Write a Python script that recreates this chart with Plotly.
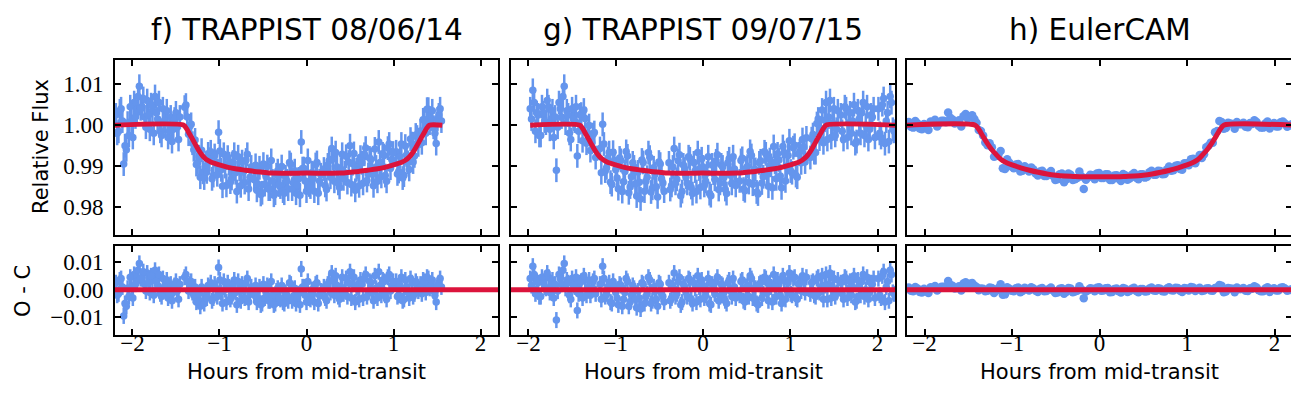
import plotly.graph_objects as go
from plotly.subplots import make_subplots

BLUE = "#6495ED"
RED = "#DC143C"

# ---- f) TRAPPIST 08/06/14 (two interleaved halves of the light curve) ----
t_f1 = [-2.19, -2.16, -2.13, -2.10, -2.07, -2.04, -2.01, -1.98, -1.95, -1.92, -1.89, -1.86, -1.83,
        -1.80, -1.77, -1.74, -1.71, -1.68, -1.65, -1.62, -1.59, -1.56, -1.53, -1.50, -1.47,
        -1.40, -1.37, -1.34, -1.31, -1.28, -1.25, -1.22, -1.19, -1.16, -1.13, -1.10, -1.07, -1.04,
        -1.01, -0.98, -0.95, -0.92, -0.89, -0.86, -0.83, -0.80, -0.77, -0.74, -0.71, -0.68, -0.65,
        -0.60, -0.57, -0.54, -0.51, -0.48, -0.45, -0.42, -0.39, -0.36, -0.33, -0.30, -0.27, -0.24,
        -0.21, -0.18, -0.15, -0.12, -0.09, -0.06, -0.03, 0.00, 0.03, 0.06, 0.09, 0.12, 0.15,
        0.20, 0.23, 0.26, 0.29, 0.32, 0.35, 0.38, 0.41, 0.44, 0.47, 0.50, 0.53, 0.56, 0.59, 0.62,
        0.65, 0.68, 0.71, 0.74, 0.77, 0.80, 0.83, 0.86, 0.89, 0.92, 0.95, 0.98,
        1.03, 1.06, 1.09, 1.12, 1.15, 1.18, 1.21, 1.24, 1.27,
        1.31, 1.34, 1.37, 1.40, 1.43, 1.46, 1.49, 1.52, 1.55]
flux_f1 = [1.0025, 0.9985, 1.0040, 0.9905, 0.9940, 0.9975, 1.0010, 1.0055, 1.0030, 1.0095, 1.0045, 1.0020, 1.0060,
           0.9990, 1.0035, 1.0070, 1.0015, 0.9985, 1.0040, 1.0005, 0.9970, 1.0020, 0.9990, 1.0030, 0.9965,
           1.0044, 1.0020, 0.9998, 0.9956, 0.9964, 0.9908, 0.9873, 0.9885, 0.9899, 0.9930, 0.9935, 0.9877, 0.9910,
           0.9983, 0.9891, 0.9929, 0.9853, 0.9906, 0.9870, 0.9929, 0.9838, 0.9892, 0.9911, 0.9860, 0.9929, 0.9873,
           0.9867, 0.9841, 0.9896, 0.9835, 0.9855, 0.9899, 0.9844, 0.9864, 0.9834, 0.9889, 0.9849, 0.9839, 0.9874,
           0.9844, 0.9904, 0.9859, 0.9834, 0.9869, 0.9959, 0.9894, 0.9839, 0.9854, 0.9884, 0.9839, 0.9909, 0.9864,
           0.9893, 0.9843, 0.9913, 0.9943, 0.9863, 0.9898, 0.9848, 0.9929, 0.9884, 0.9860, 0.9950, 0.9906, 0.9841,
           0.9897, 0.9922, 0.9858, 0.9944, 0.9880, 0.9916, 0.9852, 0.9898, 0.9959, 0.9875, 0.9926, 0.9863, 0.9954, 0.9916,
           0.9935, 0.9887, 0.9954, 0.9878, 0.9927, 0.9892, 0.9955, 0.9925, 0.9971,
           0.9986, 1.0013, 0.9980, 1.0039, 1.0015, 0.9995, 0.9955, 1.0025, 1.0010]
res_f1 = [0.0025, -0.0015, 0.0040, -0.0095, -0.0060, -0.0025, 0.0010, 0.0055, 0.0030, 0.0095, 0.0045, 0.0020, 0.0060,
          -0.0010, 0.0035, 0.0070, 0.0015, -0.0015, 0.0040, 0.0005, -0.0030, 0.0020, -0.0010, 0.0030, -0.0035,
          0.0045, 0.0030, 0.0020, -0.0010, 0.0010, -0.0035, -0.0060, -0.0040, -0.0020, 0.0015, 0.0025, -0.0030, 0.0005,
          0.0080, -0.0010, 0.0030, -0.0045, 0.0010, -0.0025, 0.0035, -0.0055, 0.0000, 0.0020, -0.0030, 0.0040, -0.0015,
          -0.0020, -0.0045, 0.0010, -0.0050, -0.0030, 0.0015, -0.0040, -0.0020, -0.0050, 0.0005, -0.0035, -0.0045, -0.0010,
          -0.0040, 0.0020, -0.0025, -0.0050, -0.0015, 0.0075, 0.0010, -0.0045, -0.0030, 0.0000, -0.0045, 0.0025, -0.0020,
          0.0010, -0.0040, 0.0030, 0.0060, -0.0020, 0.0015, -0.0035, 0.0045, 0.0000, -0.0025, 0.0065, 0.0020, -0.0045,
          0.0010, 0.0035, -0.0030, 0.0055, -0.0010, 0.0025, -0.0040, 0.0005, 0.0065, -0.0020, 0.0030, -0.0035, 0.0055, 0.0015,
          0.0030, -0.0020, 0.0045, -0.0035, 0.0010, -0.0030, 0.0025, -0.0015, 0.0020,
          0.0020, 0.0035, -0.0010, 0.0040, 0.0015, -0.0005, -0.0045, 0.0025, 0.0010]
t_f2 = [-2.175, -2.145, -2.115, -2.085, -2.055, -2.025, -1.995, -1.965, -1.935, -1.905, -1.875, -1.845, -1.815,
        -1.785, -1.755, -1.725, -1.695, -1.665, -1.635, -1.605, -1.575, -1.545, -1.515, -1.485, -1.455,
        -1.385, -1.355, -1.325, -1.295, -1.265, -1.235, -1.205, -1.175, -1.145, -1.115, -1.085, -1.055, -1.025,
        -0.995, -0.965, -0.935, -0.905, -0.875, -0.845, -0.815, -0.785, -0.755, -0.725, -0.695, -0.665, -0.635,
        -0.585, -0.555, -0.525, -0.495, -0.465, -0.435, -0.405, -0.375, -0.345, -0.315, -0.285, -0.255, -0.225,
        -0.195, -0.165, -0.135, -0.105, -0.075, -0.045, -0.015, 0.015, 0.045, 0.075, 0.105, 0.135, 0.165,
        0.215, 0.245, 0.275, 0.305, 0.335, 0.365, 0.395, 0.425, 0.455, 0.485, 0.515, 0.545, 0.575, 0.605, 0.635,
        0.665, 0.695, 0.725, 0.755, 0.785, 0.815, 0.845, 0.875, 0.905, 0.935, 0.965, 0.995,
        1.045, 1.075, 1.105, 1.135, 1.165, 1.195, 1.225, 1.255, 1.285,
        1.325, 1.355, 1.385, 1.415, 1.445, 1.475, 1.505, 1.535]
flux_f2 = [0.9980, 1.0035, 1.0010, 0.9950, 1.0005, 1.0045, 0.9970, 1.0020, 1.0070, 1.0040, 1.0065, 0.9995, 1.0025,
           1.0050, 0.9980, 1.0030, 1.0055, 0.9975, 1.0010, 1.0035, 0.9985, 0.9960, 1.0015, 0.9995, 1.0020,
           1.0049, 0.9978, 1.0002, 0.9940, 0.9904, 0.9923, 0.9939, 0.9871, 0.9886, 0.9917, 0.9869, 0.9926, 0.9879,
           0.9937, 0.9851, 0.9899, 0.9922, 0.9861, 0.9910, 0.9884, 0.9923, 0.9852, 0.9886, 0.9915, 0.9844, 0.9898,
           0.9902, 0.9856, 0.9831, 0.9905, 0.9875, 0.9844, 0.9914, 0.9829, 0.9879, 0.9854, 0.9899, 0.9834, 0.9864,
           0.9909, 0.9844, 0.9889, 0.9854, 0.9829, 0.9894, 0.9864, 0.9914, 0.9849, 0.9869, 0.9904, 0.9834, 0.9879,
           0.9853, 0.9903, 0.9873, 0.9918, 0.9933, 0.9858, 0.9893, 0.9869, 0.9924, 0.9910, 0.9855, 0.9931, 0.9891, 0.9852, 0.9908,
           0.9929, 0.9865, 0.9920, 0.9881, 0.9942, 0.9863, 0.9909, 0.9930, 0.9877, 0.9944, 0.9895, 0.9932,
           0.9881, 0.9923, 0.9871, 0.9949, 0.9909, 0.9966, 0.9910, 0.9976, 0.9952,
           0.9957, 1.0013, 1.0039, 1.0005, 1.0035, 0.9980, 1.0015, 1.0040]
res_f2 = [-0.0020, 0.0035, 0.0010, -0.0050, 0.0005, 0.0045, -0.0030, 0.0020, 0.0070, 0.0040, 0.0065, -0.0005, 0.0025,
          0.0050, -0.0020, 0.0030, 0.0055, -0.0025, 0.0010, 0.0035, -0.0015, -0.0040, 0.0015, -0.0005, 0.0020,
          0.0055, -0.0005, 0.0030, -0.0020, -0.0045, -0.0015, 0.0010, -0.0050, -0.0030, 0.0005, -0.0040, 0.0020, -0.0025,
          0.0035, -0.0050, 0.0000, 0.0025, -0.0035, 0.0015, -0.0010, 0.0030, -0.0040, -0.0005, 0.0025, -0.0045, 0.0010,
          0.0015, -0.0030, -0.0055, 0.0020, -0.0010, -0.0040, 0.0030, -0.0055, -0.0005, -0.0030, 0.0015, -0.0050, -0.0020,
          0.0025, -0.0040, 0.0005, -0.0030, -0.0055, 0.0010, -0.0020, 0.0030, -0.0035, -0.0015, 0.0020, -0.0050, -0.0005,
          -0.0030, 0.0020, -0.0010, 0.0035, 0.0050, -0.0025, 0.0010, -0.0015, 0.0040, 0.0025, -0.0030, 0.0045, 0.0005, -0.0035, 0.0020,
          0.0040, -0.0025, 0.0030, -0.0010, 0.0050, -0.0030, 0.0015, 0.0035, -0.0020, 0.0045, -0.0005, 0.0030,
          -0.0025, 0.0015, -0.0040, 0.0035, -0.0010, 0.0040, -0.0025, 0.0030, -0.0005,
          -0.0015, 0.0030, 0.0045, 0.0005, 0.0035, -0.0020, 0.0015, 0.0040]

# ---- g) TRAPPIST 09/07/15 ----
t_g1 = [-1.98, -1.95, -1.92, -1.89, -1.86, -1.83, -1.80, -1.77, -1.74, -1.71, -1.68, -1.65, -1.62,
        -1.59, -1.56, -1.53, -1.50, -1.47, -1.44, -1.41, -1.38, -1.35, -1.32, -1.29, -1.26, -1.23,
        -1.18, -1.15, -1.12, -1.09, -1.06, -1.03, -1.00, -0.97, -0.94, -0.91, -0.88, -0.85, -0.82,
        -0.79, -0.76, -0.73, -0.70, -0.67, -0.64, -0.61, -0.58, -0.55, -0.52, -0.49, -0.46,
        -0.39, -0.36, -0.33, -0.30, -0.27, -0.24, -0.21, -0.18, -0.15, -0.12, -0.09, -0.06, -0.03,
        0.00, 0.03, 0.06, 0.09, 0.12, 0.15, 0.18, 0.21, 0.24, 0.27, 0.30, 0.33, 0.36,
        0.42, 0.45, 0.48, 0.51, 0.54, 0.57, 0.60, 0.63, 0.66, 0.69, 0.72, 0.75, 0.78,
        0.81, 0.84, 0.87, 0.90, 0.93, 0.96, 0.99, 1.02, 1.05, 1.08, 1.11, 1.14, 1.17,
        1.23, 1.26, 1.29, 1.32, 1.35, 1.38, 1.41, 1.44, 1.47, 1.50, 1.53,
        1.58, 1.61, 1.64, 1.67, 1.70, 1.73, 1.76, 1.79, 1.82, 1.85, 1.88, 1.91, 1.94, 1.97,
        2.01, 2.04, 2.07, 2.10, 2.13, 2.16, 2.19]
flux_g1 = [1.0040, 1.0085, 0.9985, 1.0025, 0.9975, 1.0030, 1.0005, 1.0045, 1.0015, 0.9970, 0.9890, 1.0055, 1.0020,
           1.0095, 1.0035, 0.9980, 1.0040, 1.0010, 0.9925, 1.0025, 0.9962, 1.0016, 0.9980, 0.9938, 0.9977, 0.9921,
           0.9943, 1.0002, 0.9888, 0.9919, 0.9861, 0.9934, 0.9892, 0.9845, 0.9914, 0.9862, 0.9936, 0.9835, 0.9874,
           0.9898, 0.9827, 0.9861, 0.9915, 0.9839, 0.9873, 0.9922, 0.9846, 0.9881, 0.9825, 0.9905, 0.9859,
           0.9908, 0.9853, 0.9943, 0.9868, 0.9928, 0.9838, 0.9893, 0.9858, 0.9918, 0.9833, 0.9888, 0.9933, 0.9848,
           0.9898, 0.9863, 0.9923, 0.9828, 0.9883, 0.9913, 0.9843, 0.9903, 0.9873, 0.9833, 0.9918, 0.9858, 0.9893,
           0.9864, 0.9919, 0.9840, 0.9900, 0.9936, 0.9856, 0.9892, 0.9832, 0.9913, 0.9874, 0.9930, 0.9851, 0.9902,
           0.9948, 0.9869, 0.9915, 0.9847, 0.9933, 0.9900, 0.9962, 0.9884, 0.9951, 0.9873, 0.9936, 0.9965, 0.9910,
           0.9921, 0.9977, 0.9933, 1.0015, 0.9991, 0.9957, 1.0055, 1.0020, 0.9970, 1.0040, 0.9990,
           1.0025, 0.9965, 1.0040, 1.0005, 0.9980, 1.0050, 0.9960, 1.0015, 1.0030, 0.9975, 1.0045, 0.9990, 1.0020, 0.9970,
           1.0040, 0.9970, 1.0065, 1.0010, 0.9960, 1.0055, 0.9985]
res_g1 = [0.0040, 0.0085, -0.0015, 0.0025, -0.0025, 0.0030, 0.0005, 0.0045, 0.0015, -0.0030, -0.0110, 0.0055, 0.0020,
          0.0095, 0.0035, -0.0020, 0.0040, 0.0010, -0.0075, 0.0025, -0.0030, 0.0035, 0.0010, -0.0020, 0.0030, -0.0015,
          0.0020, 0.0085, -0.0025, 0.0010, -0.0045, 0.0030, -0.0010, -0.0055, 0.0015, -0.0035, 0.0040, -0.0060, -0.0020,
          0.0005, -0.0065, -0.0030, 0.0025, -0.0050, -0.0015, 0.0035, -0.0040, -0.0005, -0.0060, 0.0020, -0.0025,
          0.0025, -0.0030, 0.0060, -0.0015, 0.0045, -0.0045, 0.0010, -0.0025, 0.0035, -0.0050, 0.0005, 0.0050, -0.0035,
          0.0015, -0.0020, 0.0040, -0.0055, 0.0000, 0.0030, -0.0040, 0.0020, -0.0010, -0.0050, 0.0035, -0.0025, 0.0010,
          -0.0020, 0.0035, -0.0045, 0.0015, 0.0050, -0.0030, 0.0005, -0.0055, 0.0025, -0.0015, 0.0040, -0.0040, 0.0010,
          0.0055, -0.0025, 0.0020, -0.0050, 0.0035, 0.0000, 0.0060, -0.0020, 0.0045, -0.0035, 0.0025, 0.0050, -0.0010,
          -0.0015, 0.0030, -0.0025, 0.0045, 0.0010, -0.0035, 0.0055, 0.0020, -0.0030, 0.0040, -0.0010,
          0.0025, -0.0035, 0.0040, 0.0005, -0.0020, 0.0050, -0.0040, 0.0015, 0.0030, -0.0025, 0.0045, -0.0010, 0.0020, -0.0030,
          0.0040, -0.0030, 0.0065, 0.0010, -0.0040, 0.0055, -0.0015]
t_g2 = [-1.965, -1.935, -1.905, -1.875, -1.845, -1.815, -1.785, -1.755, -1.725, -1.695, -1.665, -1.635, -1.605,
        -1.575, -1.545, -1.515, -1.485, -1.455, -1.425, -1.395, -1.365, -1.335, -1.305, -1.275, -1.245,
        -1.165, -1.135, -1.105, -1.075, -1.045, -1.015, -0.985, -0.955, -0.925, -0.895, -0.865, -0.835, -0.805,
        -0.775, -0.745, -0.715, -0.685, -0.655, -0.625, -0.595, -0.565, -0.535, -0.505, -0.475, -0.445,
        -0.375, -0.345, -0.315, -0.285, -0.255, -0.225, -0.195, -0.165, -0.135, -0.105, -0.075, -0.045, -0.015,
        0.015, 0.045, 0.075, 0.105, 0.135, 0.165, 0.195, 0.225, 0.255, 0.285, 0.315, 0.345, 0.375,
        0.435, 0.465, 0.495, 0.525, 0.555, 0.585, 0.615, 0.645, 0.675, 0.705, 0.735, 0.765, 0.795,
        0.825, 0.855, 0.885, 0.915, 0.945, 0.975, 1.005, 1.035, 1.065, 1.095, 1.125, 1.155, 1.185,
        1.245, 1.275, 1.305, 1.335, 1.365, 1.395, 1.425, 1.455, 1.485, 1.515, 1.545,
        1.595, 1.625, 1.655, 1.685, 1.715, 1.745, 1.775, 1.805, 1.835, 1.865, 1.895, 1.925, 1.955,
        2.025, 2.055, 2.085, 2.115, 2.145, 2.175]
flux_g2 = [1.0015, 1.0055, 1.0030, 0.9975, 1.0045, 1.0010, 1.0060, 0.9990, 1.0035, 1.0020, 0.9995, 1.0040, 1.0070,
           1.0005, 1.0025, 0.9965, 1.0015, 1.0045, 0.9985, 1.0027, 1.0037, 0.9956, 0.9999, 0.9958, 0.9982,
           0.9884, 0.9954, 0.9896, 0.9933, 0.9855, 0.9913, 0.9871, 0.9920, 0.9838, 0.9887, 0.9925, 0.9849, 0.9908,
           0.9857, 0.9886, 0.9820, 0.9909, 0.9863, 0.9933, 0.9837, 0.9896, 0.9850, 0.9910, 0.9869, 0.9839,
           0.9843, 0.9898, 0.9858, 0.9913, 0.9828, 0.9903, 0.9873, 0.9923, 0.9848, 0.9908, 0.9838, 0.9893, 0.9918,
           0.9853, 0.9883, 0.9833, 0.9903, 0.9868, 0.9928, 0.9858, 0.9898, 0.9843, 0.9908, 0.9878, 0.9923, 0.9853,
           0.9914, 0.9844, 0.9895, 0.9860, 0.9926, 0.9891, 0.9837, 0.9908, 0.9859, 0.9935, 0.9880, 0.9916, 0.9847,
           0.9909, 0.9930, 0.9876, 0.9948, 0.9864, 0.9926, 0.9888, 0.9945, 0.9877, 0.9930, 0.9908, 0.9947, 0.9969,
           0.9967, 0.9933, 1.0004, 0.9966, 1.0037, 1.0012, 0.9965, 1.0060, 1.0005, 0.9975, 1.0035,
           0.9985, 1.0045, 0.9970, 1.0030, 1.0010, 0.9955, 1.0035, 0.9980, 1.0055, 1.0000, 0.9965, 1.0025, 1.0040,
           0.9980, 1.0050, 0.9955, 1.0030, 1.0070, 0.9990]
res_g2 = [0.0015, 0.0055, 0.0030, -0.0025, 0.0045, 0.0010, 0.0060, -0.0010, 0.0035, 0.0020, -0.0005, 0.0040, 0.0070,
          0.0005, 0.0025, -0.0035, 0.0015, 0.0045, -0.0015, 0.0030, 0.0050, -0.0020, 0.0035, 0.0005, 0.0040,
          -0.0035, 0.0040, -0.0015, 0.0025, -0.0050, 0.0010, -0.0030, 0.0020, -0.0060, -0.0010, 0.0030, -0.0045, 0.0015,
          -0.0035, -0.0005, -0.0070, 0.0020, -0.0025, 0.0045, -0.0050, 0.0010, -0.0035, 0.0025, -0.0015, -0.0045,
          -0.0040, 0.0015, -0.0025, 0.0030, -0.0055, 0.0020, -0.0010, 0.0040, -0.0035, 0.0025, -0.0045, 0.0010, 0.0035,
          -0.0030, 0.0000, -0.0050, 0.0020, -0.0015, 0.0045, -0.0025, 0.0015, -0.0040, 0.0025, -0.0005, 0.0040, -0.0030,
          0.0030, -0.0040, 0.0010, -0.0025, 0.0040, 0.0005, -0.0050, 0.0020, -0.0030, 0.0045, -0.0010, 0.0025, -0.0045,
          0.0015, 0.0035, -0.0020, 0.0050, -0.0035, 0.0025, -0.0015, 0.0040, -0.0030, 0.0020, -0.0005, 0.0030, 0.0045,
          0.0025, -0.0020, 0.0040, -0.0010, 0.0050, 0.0015, -0.0035, 0.0060, 0.0005, -0.0025, 0.0035,
          -0.0015, 0.0045, -0.0030, 0.0030, 0.0010, -0.0045, 0.0035, -0.0020, 0.0055, 0.0000, -0.0035, 0.0025, 0.0040,
          -0.0020, 0.0050, -0.0045, 0.0030, 0.0070, -0.0010]

# ---- h) EulerCAM ----
t_e1 = [-2.18, -2.13, -2.08, -2.03, -1.98, -1.93, -1.88, -1.83, -1.78, -1.73, -1.68, -1.63, -1.58, -1.53, -1.48,
        -1.43, -1.38, -1.33, -1.28, -1.23, -1.18, -1.13, -1.08, -1.03, -0.98, -0.93, -0.88, -0.83, -0.78, -0.73,
        -0.68, -0.63, -0.58, -0.53, -0.48, -0.43, -0.38, -0.33, -0.28, -0.23, -0.18, -0.13, -0.08, -0.03, 0.02,
        0.07, 0.12, 0.17, 0.22, 0.27, 0.32, 0.37, 0.42, 0.47, 0.52, 0.57, 0.62, 0.67, 0.72, 0.77,
        0.82, 0.87, 0.92, 0.97, 1.02, 1.07, 1.12, 1.17, 1.22, 1.27, 1.32, 1.37, 1.42, 1.47, 1.52,
        1.57, 1.62, 1.67, 1.72, 1.77, 1.82, 1.87, 1.92, 1.97, 2.02, 2.07, 2.12, 2.17]
flux_e1 = [1.0008, 0.9994, 1.0004, 0.9990, 0.9993, 1.0009, 1.0013, 1.0005, 1.0011, 1.0031, 1.0014, 1.0006, 0.9997, 1.0027, 1.0021,
           1.0015, 0.9988, 0.9975, 0.9951, 0.9946, 0.9925, 0.9937, 0.9893, 0.9908, 0.9895, 0.9905, 0.9889, 0.9893, 0.9897, 0.9882,
           0.9887, 0.9876, 0.9883, 0.9876, 0.9868, 0.9882, 0.9868, 0.9879, 0.9868, 0.9887, 0.9844, 0.9873, 0.9878, 0.9882, 0.9871,
           0.9880, 0.9866, 0.9877, 0.9869, 0.9881, 0.9867, 0.9879, 0.9872, 0.9880, 0.9872, 0.9885, 0.9879, 0.9889, 0.9880, 0.9892,
           0.9889, 0.9901, 0.9893, 0.9907, 0.9902, 0.9918, 0.9918, 0.9920, 0.9946, 0.9957, 0.9983, 1.0010, 0.9991, 1.0006, 1.0003,
           1.0008, 1.0002, 0.9996, 1.0005, 1.0012, 0.9998, 0.9994, 1.0009, 1.0002, 0.9997, 1.0007, 1.0004, 0.9999]
res_e1 = [0.0008, -0.0006, 0.0004, -0.0010, -0.0007, 0.0009, 0.0013, 0.0005, 0.0011, 0.0031, 0.0014, 0.0006, -0.0003, 0.0027, 0.0021,
          0.0015, -0.0002, 0.0003, -0.0004, 0.0006, -0.0003, 0.0020, -0.0017, 0.0003, -0.0006, 0.0008, -0.0005, 0.0002, 0.0009, -0.0004,
          0.0003, -0.0006, 0.0002, -0.0003, -0.0010, 0.0005, -0.0008, 0.0004, -0.0007, 0.0012, -0.0031, -0.0002, 0.0003, 0.0007, -0.0004,
          0.0005, -0.0009, 0.0002, -0.0006, 0.0006, -0.0008, 0.0003, -0.0005, 0.0002, -0.0007, 0.0004, -0.0003, 0.0005, -0.0006, 0.0004,
          -0.0002, 0.0007, -0.0004, 0.0006, -0.0003, 0.0008, 0.0002, -0.0005, 0.0004, -0.0003, 0.0006, 0.0017, -0.0009, 0.0006, 0.0003,
          0.0008, 0.0002, -0.0004, 0.0005, 0.0012, -0.0002, -0.0006, 0.0009, 0.0002, -0.0003, 0.0007, 0.0004, -0.0001]
t_e2 = [-2.155, -2.105, -2.055, -2.005, -1.955, -1.905, -1.855, -1.805, -1.755, -1.705, -1.655, -1.605, -1.555, -1.505, -1.455,
        -1.405, -1.355, -1.305, -1.255, -1.205, -1.155, -1.105, -1.055, -1.005, -0.955, -0.905, -0.855, -0.805, -0.755, -0.705,
        -0.655, -0.605, -0.555, -0.505, -0.455, -0.405, -0.355, -0.305, -0.255, -0.205, -0.155, -0.105, -0.055, -0.005, 0.045,
        0.095, 0.145, 0.195, 0.245, 0.295, 0.345, 0.395, 0.445, 0.495, 0.545, 0.595, 0.645, 0.695, 0.745, 0.795,
        0.845, 0.895, 0.945, 0.995, 1.045, 1.095, 1.145, 1.195, 1.245, 1.295, 1.345, 1.395, 1.445, 1.495, 1.545,
        1.595, 1.645, 1.695, 1.745, 1.795, 1.845, 1.895, 1.945, 1.995, 2.045, 2.095, 2.145, 2.195]
flux_e2 = [0.9996, 1.0010, 0.9992, 1.0003, 0.9988, 1.0006, 0.9997, 1.0011, 1.0007, 1.0018, 1.0004, 1.0012, 1.0022, 1.0016, 1.0024,
           1.0006, 0.9986, 0.9958, 0.9956, 0.9923, 0.9928, 0.9895, 0.9917, 0.9899, 0.9904, 0.9887, 0.9900, 0.9887, 0.9892, 0.9877,
           0.9889, 0.9876, 0.9888, 0.9866, 0.9880, 0.9861, 0.9882, 0.9866, 0.9871, 0.9875, 0.9867, 0.9879, 0.9868, 0.9883, 0.9871,
           0.9880, 0.9866, 0.9878, 0.9864, 0.9878, 0.9870, 0.9883, 0.9868, 0.9880, 0.9874, 0.9889, 0.9879, 0.9888, 0.9881, 0.9899,
           0.9890, 0.9902, 0.9891, 0.9907, 0.9917, 0.9907, 0.9927, 0.9929, 0.9950, 0.9957, 0.9986, 1.0008, 0.9993, 1.0004, 0.9991,
           1.0002, 1.0006, 0.9995, 1.0003, 1.0008, 0.9994, 1.0004, 0.9992, 1.0005, 0.9997, 1.0009, 0.9996, 1.0002]
res_e2 = [-0.0004, 0.0010, -0.0008, 0.0003, -0.0012, 0.0006, -0.0003, 0.0011, 0.0007, 0.0018, 0.0004, 0.0012, 0.0022, 0.0016, 0.0024,
          0.0010, 0.0004, -0.0006, 0.0008, -0.0012, 0.0006, -0.0018, 0.0009, -0.0004, 0.0005, -0.0009, 0.0007, -0.0003, 0.0004, -0.0008,
          0.0006, -0.0005, 0.0008, -0.0012, 0.0003, -0.0015, 0.0006, -0.0009, -0.0004, 0.0001, -0.0007, 0.0005, -0.0006, 0.0009, -0.0003,
          0.0006, -0.0008, 0.0004, -0.0010, 0.0003, -0.0005, 0.0007, -0.0009, 0.0002, -0.0006, 0.0008, -0.0004, 0.0003, -0.0007, 0.0009,
          -0.0003, 0.0006, -0.0008, 0.0004, 0.0010, -0.0005, 0.0007, -0.0003, 0.0005, -0.0004, 0.0008, 0.0014, -0.0007, 0.0004, -0.0009,
          0.0002, 0.0006, -0.0005, 0.0003, 0.0008, -0.0006, 0.0004, -0.0008, 0.0005, -0.0003, 0.0009, -0.0004, 0.0002]

# transit models
trap_model_t = [-1.41, -1.38, -1.35, -1.32, -1.29, -1.26, -1.23, -1.20, -1.17, -1.14, -1.10, -1.0, -0.9,
                -0.8, -0.7, -0.6, -0.5, -0.4, 0.0, 0.4, 0.5, 0.6, 0.7, 0.8, 0.9, 1.0, 1.10,
                1.14, 1.17, 1.20, 1.23, 1.26, 1.29, 1.32, 1.35, 1.38, 1.41]
trap_model = [1.0, 0.9992, 0.9981, 0.9970, 0.9958, 0.9947, 0.9936, 0.9927, 0.9920, 0.9915, 0.9910, 0.9903, 0.9897,
              0.9893, 0.9890, 0.9887, 0.9885, 0.9883, 0.9883, 0.9883, 0.9885, 0.9887, 0.9890, 0.9893, 0.9897, 0.9903, 0.9910,
              0.9915, 0.9920, 0.9927, 0.9936, 0.9947, 0.9958, 0.9970, 0.9981, 0.9992, 1.0]
euler_model_t = [-2.2, -1.42, -1.38, -1.33, -1.28, -1.23, -1.18, -1.13, -1.08, -1.0, -0.9, -0.8, -0.7, -0.6, -0.5,
                 -0.4, -0.3, -0.2, 0.0, 0.2, 0.3, 0.4, 0.5, 0.6, 0.7, 0.8, 0.9, 1.0, 1.08, 1.13, 1.18, 1.23,
                 1.28, 1.33, 1.38, 1.42, 2.2]
euler_model = [1.0, 1.0, 0.9990, 0.9972, 0.9955, 0.9940, 0.9928, 0.9917, 0.9910, 0.9903, 0.9896, 0.9890, 0.9885, 0.9881, 0.9878,
               0.9876, 0.9875, 0.9874, 0.9874, 0.9874, 0.9875, 0.9876, 0.9878, 0.9881, 0.9885, 0.9890, 0.9896, 0.9903, 0.9910, 0.9917,
               0.9928, 0.9940, 0.9955, 0.9972, 0.9990, 1.0, 1.0]

titles = ["f) TRAPPIST 08/06/14", "g) TRAPPIST 09/07/15", "h) EulerCAM"]
errs = [0.0029, 0.0029, 0.0006]
msize = [7.5, 7.5, 8.5]

panels = [
    (t_f1 + t_f2, flux_f1 + flux_f2, res_f1 + res_f2,
     [-2.2] + trap_model_t + [1.56], [1.0] + trap_model + [1.0]),
    (t_g1 + t_g2, flux_g1 + flux_g2, res_g1 + res_g2,
     [-1.98] + trap_model_t + [2.2], [1.0] + trap_model + [1.0]),
    (t_e1 + t_e2, flux_e1 + flux_e2, res_e1 + res_e2, euler_model_t, euler_model),
]

W, H = 1299, 399
xdom = [(107, 490), (503, 887), (899, 1284)]
ydom_top = (52, 227)
ydom_bot = (238, 327)

fig = make_subplots(rows=2, cols=3)

for i, (t, fl, rs, mt, mf) in enumerate(panels):
    col = i + 1
    assert len(t) == len(fl) == len(rs) and len(mt) == len(mf)
    err = dict(type="constant", value=errs[i], color=BLUE, thickness=2.5, width=0)
    fig.add_trace(go.Scatter(x=t, y=fl, mode="markers", marker=dict(color=BLUE, size=msize[i]),
                             error_y=err), row=1, col=col)
    fig.add_trace(go.Scatter(x=mt, y=mf, mode="lines",
                             line=dict(color=RED, width=5, shape="spline", smoothing=0.7)), row=1, col=col)
    fig.add_trace(go.Scatter(x=t, y=rs, mode="markers", marker=dict(color=BLUE, size=msize[i]),
                             error_y=err), row=2, col=col)
    fig.add_hline(y=0, line=dict(color=RED, width=5), row=2, col=col)

axis_common = dict(showline=True, linecolor="black", linewidth=2, mirror="ticks",
                   ticks="inside", ticklen=6, tickwidth=1.5, tickcolor="black",
                   showgrid=False, zeroline=False,
                   tickfont=dict(family="Liberation Serif", size=23, color="black"))

xt = [-2, -1, 0, 1, 2]
xtt = ["\u22122", "\u22121", "0", "1", "2"]
for i in range(3):
    col = i + 1
    d = [xdom[i][0] / W, xdom[i][1] / W]
    fig.update_xaxes(domain=d, range=[-2.2, 2.2], tickvals=xt, ticktext=xtt,
                     showticklabels=False, row=1, col=col, **axis_common)
    fig.update_xaxes(domain=d, range=[-2.2, 2.2], tickvals=xt, ticktext=xtt,
                     showticklabels=True, ticklabelstandoff=-14, row=2, col=col, **axis_common)
    fig.update_yaxes(domain=[1 - ydom_top[1] / H, 1 - ydom_top[0] / H], range=[0.9732, 1.0159],
                     tickvals=[0.98, 0.99, 1.00, 1.01], ticktext=["0.98", "0.99", "1.00", "1.01"],
                     showticklabels=(i == 0), ticklabelstandoff=5, row=1, col=col, **axis_common)
    fig.update_yaxes(domain=[1 - ydom_bot[1] / H, 1 - ydom_bot[0] / H], range=[-0.0164, 0.0158],
                     tickvals=[-0.01, 0.0, 0.01], ticktext=["\u22120.01", "0.00", "0.01"],
                     showticklabels=(i == 0), ticklabelstandoff=5, row=2, col=col, **axis_common)

sans = "DejaVu Sans"
annotations = []
for i in range(3):
    cx = (xdom[i][0] + xdom[i][1]) / 2 / W
    annotations.append(dict(text=titles[i], x=cx, y=1 - 22 / H, xref="paper", yref="paper",
                            showarrow=False, xanchor="center", yanchor="middle",
                            font=dict(family=sans, size=29.5, color="black")))
    annotations.append(dict(text="Hours from mid-transit", x=cx, y=1 - 364 / H, xref="paper", yref="paper",
                            showarrow=False, xanchor="center", yanchor="middle",
                            font=dict(family=sans, size=21, color="black")))
annotations.append(dict(text="Relative Flux", x=33 / W, y=1 - 139 / H, xref="paper", yref="paper",
                        showarrow=False, textangle=-90, xanchor="center", yanchor="middle",
                        font=dict(family=sans, size=21, color="black")))
annotations.append(dict(text="O - C", x=15 / W, y=1 - 283 / H, xref="paper", yref="paper",
                        showarrow=False, textangle=-90, xanchor="center", yanchor="middle",
                        font=dict(family=sans, size=21, color="black")))

fig.update_layout(width=W, height=H, margin=dict(l=0, r=0, t=0, b=0),
                  plot_bgcolor="white", paper_bgcolor="white", showlegend=False,
                  annotations=annotations)

fig.write_html("out.html")
